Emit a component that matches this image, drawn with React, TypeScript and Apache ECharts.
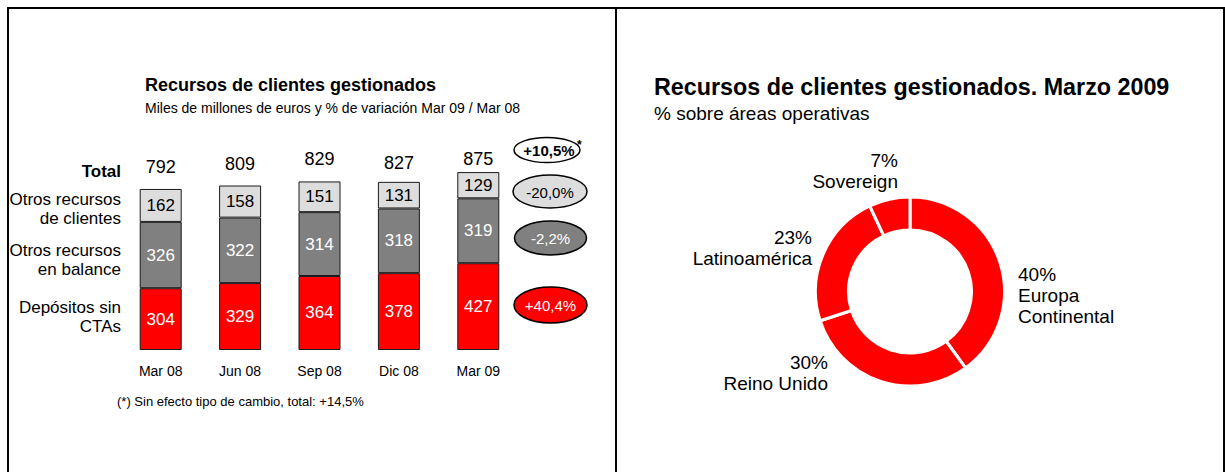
import React, { useEffect, useRef } from 'react';
import * as echarts from 'echarts';

const categories = ['Mar 08', 'Jun 08', 'Sep 08', 'Dic 08', 'Mar 09'];
const depositos = [304, 329, 364, 378, 427];
const otrosBalance = [326, 322, 314, 318, 319];
const otrosClientes = [162, 158, 151, 131, 129];
const totals = [792, 809, 829, 827, 875];
const rowLabels = ['Total', 'Otros recursos\nde clientes', 'Otros recursos\nen balance', 'Depósitos sin\nCTAs'];
const variations = ['+10,5%', '-20,0%', '-2,2%', '+40,4%'];
const leftTitle = 'Recursos de clientes gestionados';
const leftSubtitle = 'Miles de millones de euros y % de variación Mar 09 / Mar 08';
const footnote = '(*) Sin efecto tipo de cambio, total: +14,5%';
const rightTitle = 'Recursos de clientes gestionados. Marzo 2009';
const rightSubtitle = '% sobre áreas operativas';
const pieNames = ['Europa\nContinental', 'Reino Unido', 'Latinoamérica', 'Sovereign'];
const pieValues = [40, 30, 23, 7];

const FONT = "'Liberation Sans', Arial, Helvetica, sans-serif";
const RED = '#FF0000';
const DARK = '#808080';
const LIGHT = '#DDDDDD';
const BORDER = '#1a1a1a';

function txt(x: number, y: number, text: string, opts: any = {}) {
  const align = opts.align || 'left';
  const va = opts.verticalAlign || 'middle';
  return {
    type: 'text',
    x,
    y,
    z: 10,
    style: {
      text,
      fill: opts.fill || '#000',
      fontSize: opts.fontSize || 14,
      fontWeight: opts.fontWeight || 'normal',
      fontFamily: FONT,
      lineHeight: opts.lineHeight,
      align,
      textAlign: align,
      verticalAlign: va,
      textVerticalAlign: va,
    },
  };
}

export default function App() {
  const ref = useRef<HTMLDivElement>(null);

  useEffect(() => {
    if (!ref.current) return;
    const chart = echarts.init(ref.current, undefined, { renderer: 'svg' });

    const ellipseStyles = [
      { cx: 547, cy: 150, rx: 33, ry: 12.5, fill: '#FFFFFF', color: '#000', weight: 'bold' },
      { cx: 550, cy: 191.5, rx: 37, ry: 16.5, fill: LIGHT, color: '#000', weight: 'normal' },
      { cx: 550.5, cy: 238, rx: 36, ry: 17, fill: DARK, color: '#fff', weight: 'normal' },
      { cx: 550.5, cy: 305, rx: 36.5, ry: 18, fill: RED, color: '#fff', weight: 'normal' },
    ];
    const rowPos = [
      { y: 171, weight: 'bold' },
      { y: 209, weight: 'normal' },
      { y: 259.5, weight: 'normal' },
      { y: 316.5, weight: 'normal' },
    ];
    const totalDist = [13, 13, 13, 10, 4];

    const graphics: any[] = [];
    const frame = { stroke: '#000', lineWidth: 2 };
    graphics.push({ type: 'line', shape: { x1: 7, y1: 8, x2: 1225, y2: 8 }, style: frame });
    graphics.push({ type: 'line', shape: { x1: 8, y1: 7, x2: 8, y2: 472 }, style: frame });
    graphics.push({ type: 'line', shape: { x1: 616, y1: 7, x2: 616, y2: 472 }, style: frame });
    graphics.push({ type: 'line', shape: { x1: 1224, y1: 7, x2: 1224, y2: 472 }, style: frame });

    graphics.push(txt(145, 85, leftTitle, { fontSize: 18, fontWeight: 'bold' }));
    graphics.push(txt(145, 108, leftSubtitle, { fontSize: 14 }));
    graphics.push(txt(117, 401, footnote, { fontSize: 13 }));
    graphics.push(txt(654, 87, rightTitle, { fontSize: 23.3, fontWeight: 'bold' }));
    graphics.push(txt(654, 113, rightSubtitle, { fontSize: 19 }));

    rowLabels.forEach((l, i) => {
      graphics.push(
        txt(121, rowPos[i].y, l, { fontSize: 17, fontWeight: rowPos[i].weight, align: 'right', lineHeight: 19 })
      );
    });

    variations.forEach((v, i) => {
      const e = ellipseStyles[i];
      graphics.push({
        type: 'ellipse',
        shape: { cx: e.cx, cy: e.cy, rx: e.rx, ry: e.ry },
        style: { fill: e.fill, stroke: '#000', lineWidth: 1.5 },
        z: 5,
      });
      graphics.push(
        txt(e.cx + (i === 0 ? 2 : 0), e.cy + 0.5, v, {
          fontSize: 15,
          fontWeight: e.weight,
          fill: e.color,
          align: 'center',
        })
      );
    });
    graphics.push(txt(577, 145, '*', { fontSize: 12, fontWeight: 'bold' }));

    const pieLabelPos = [
      { x: 1018, y: 295, align: 'left' },
      { x: 828, y: 373, align: 'right' },
      { x: 812, y: 248, align: 'right' },
      { x: 898, y: 171, align: 'right' },
    ];

    const segLabel = (color: string) => ({
      show: true,
      position: 'inside',
      color,
      fontSize: 17,
      fontFamily: FONT,
    });

    chart.setOption({
      animation: false,
      backgroundColor: '#fff',
      grid: { left: 121, right: 707, top: 146.67, bottom: 122 },
      xAxis: {
        type: 'category',
        data: categories,
        axisLine: { show: false },
        axisTick: { show: false },
        axisLabel: { color: '#000', fontSize: 14, fontFamily: FONT, margin: 14 },
      },
      yAxis: { type: 'value', min: 0, max: 1000, show: false, splitLine: { show: false } },
      series: [
        {
          type: 'bar',
          name: 'Depósitos sin CTAs',
          stack: 'r',
          barWidth: 42,
          barGap: '-100%',
          data: depositos,
          itemStyle: { color: RED, borderColor: BORDER, borderWidth: 1 },
          label: segLabel('#fff'),
          z: 3,
        },
        {
          type: 'bar',
          name: 'Otros recursos en balance',
          stack: 'r',
          barWidth: 42,
          barGap: '-100%',
          data: otrosBalance,
          itemStyle: { color: DARK, borderColor: BORDER, borderWidth: 1 },
          label: segLabel('#fff'),
          z: 3,
        },
        {
          type: 'bar',
          name: 'Otros recursos de clientes',
          stack: 'r',
          barWidth: 42,
          barGap: '-100%',
          data: otrosClientes,
          itemStyle: { color: LIGHT, borderColor: BORDER, borderWidth: 1 },
          label: segLabel('#000'),
          z: 3,
        },
        {
          type: 'bar',
          name: 'Total',
          barWidth: 42,
          barGap: '-100%',
          silent: true,
          z: 1,
          data: totals.map((v, i) => ({ value: v, label: { distance: totalDist[i] } })),
          itemStyle: { color: 'rgba(0,0,0,0)' },
          label: { show: true, position: 'top', color: '#000', fontSize: 18, fontFamily: FONT },
        },
        {
          type: 'pie',
          center: [910, 291.5],
          radius: [61.5, 94.5],
          startAngle: 90,
          clockwise: true,
          avoidLabelOverlap: false,
          data: pieNames.map((n, i) => ({ name: n, value: pieValues[i] })),
          itemStyle: { color: RED, borderColor: '#fff', borderWidth: 3 },
          label: {
            show: true,
            position: 'outside',
            formatter: (p: any) => `${p.value}%\n${p.name}`,
            color: '#000',
            fontSize: 19,
            lineHeight: 21,
            fontFamily: FONT,
          },
          labelLine: { show: false },
          labelLayout: (params: any) => {
            const p = pieLabelPos[params.dataIndex];
            return { x: p.x, y: p.y, align: p.align, verticalAlign: 'middle' };
          },
          emphasis: { disabled: true },
        },
      ],
      graphic: graphics,
    });

    return () => chart.dispose();
  }, []);

  return (
    <div
      ref={ref}
      style={{ position: 'absolute', left: 0, top: 0, width: 1225, height: 472, background: '#fff' }}
    />
  );
}
